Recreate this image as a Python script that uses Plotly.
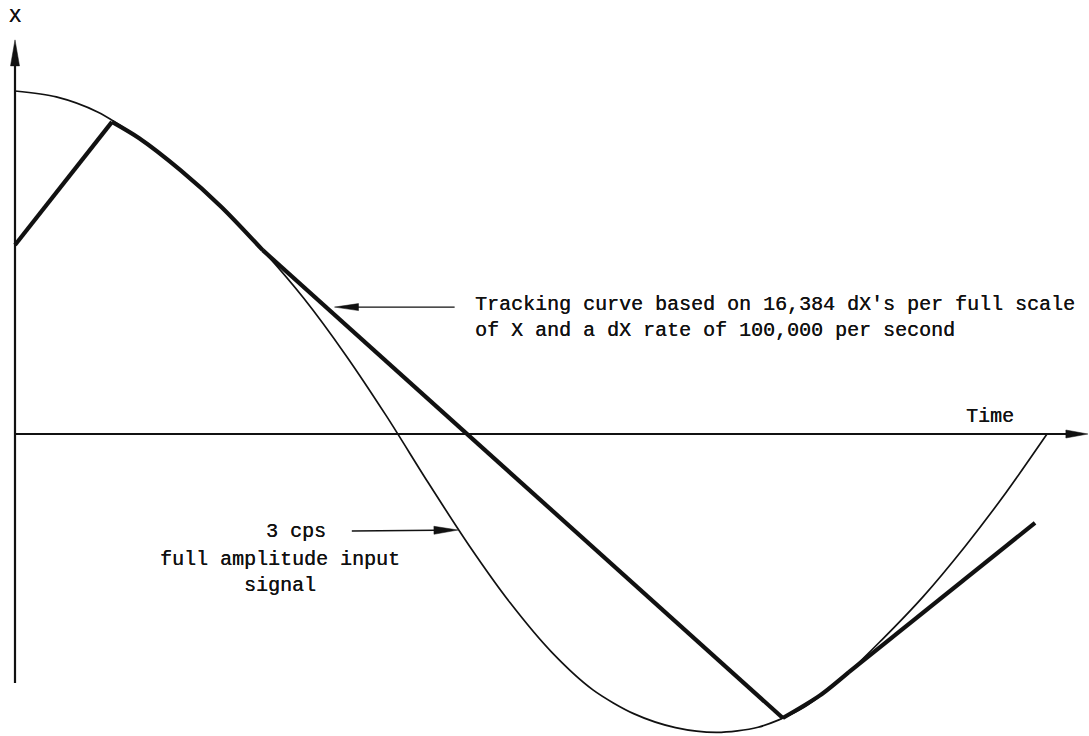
import plotly.graph_objects as go

# Input signal: 3 cps, full amplitude (time in ms, X as fraction of full amplitude)
signal_t = [0, 10, 20, 30, 40, 50, 60, 70, 80, 90, 100, 110, 120, 130, 140,
            150, 160, 170, 180, 190, 200, 210, 220, 230, 240, 250]
signal_x = [1.000, 0.983, 0.939, 0.863, 0.770, 0.662, 0.536, 0.395, 0.232, 0.052,
            -0.140, -0.325, -0.493, -0.636, -0.746, -0.816, -0.856, -0.870, -0.855,
            -0.805, -0.716, -0.600, -0.474, -0.330, -0.172, 0.000]

# Tracking curve: slews at the fixed dX rate, follows the signal where it can keep up.
# Each run is either a straight slew or a stretch lying on the signal.
track_runs = [
    dict(t=[0, 23.5], x=[0.551, 0.910], follows=False),
    dict(t=[23.5, 30, 40, 50, 60], x=[0.910, 0.863, 0.770, 0.662, 0.536], follows=True),
    dict(t=[60, 186], x=[0.536, -0.828], follows=False),
    dict(t=[186, 195, 202], x=[-0.828, -0.762, -0.694], follows=True),
    dict(t=[202, 247.1], x=[-0.694, -0.259], follows=False),
]

# Page geometry: origin of the axes and scale of each axis in pixels
W, H = 1089, 736
ORIGIN_PX, ORIGIN_PY = 15, 434
PX_PER_MS = 4.128
PX_PER_X = 343.0

T_MIN, T_MAX = -ORIGIN_PX / PX_PER_MS, (W - ORIGIN_PX) / PX_PER_MS
X_MIN, X_MAX = (ORIGIN_PY - H) / PX_PER_X, ORIGIN_PY / PX_PER_X

# Axis extents (data units)
AXIS_T_END = 259.9
AXIS_X_TOP = 1.149
AXIS_X_BOTTOM = -0.726

MONO = "Liberation Mono, Courier New, monospace"
INK = "#111111"


def to_px(t, x):
    return ORIGIN_PX + t * PX_PER_MS, ORIGIN_PY - x * PX_PER_X


def to_data(px, py):
    return (px - ORIGIN_PX) / PX_PER_MS, (ORIGIN_PY - py) / PX_PER_X


shapes = []


def arrow(tip, tail, head_len, head_w, line_w):
    """Line from tail to tip with a long, narrow filled head at the tip."""
    tx, ty = to_px(*tip)
    sx, sy = to_px(*tail)
    dx, dy = tx - sx, ty - sy
    n = (dx * dx + dy * dy) ** 0.5
    ux, uy = dx / n, dy / n
    bx, by = tx - ux * head_len, ty - uy * head_len
    nx, ny = -uy, ux
    c1 = to_data(bx + nx * head_w / 2, by + ny * head_w / 2)
    c2 = to_data(bx - nx * head_w / 2, by - ny * head_w / 2)
    base = to_data(bx + ux * 2, by + uy * 2)
    shapes.append(dict(type="line", xref="x", yref="y", x0=tail[0], y0=tail[1],
                       x1=base[0], y1=base[1], line=dict(color=INK, width=line_w)))
    shapes.append(dict(type="path", xref="x", yref="y",
                       path=f"M{tip[0]},{tip[1]} L{c1[0]},{c1[1]} L{c2[0]},{c2[1]} Z",
                       fillcolor=INK, line=dict(color=INK, width=0.5)))


fig = go.Figure()

fig.add_trace(go.Scatter(
    x=signal_t, y=signal_x, mode="lines",
    line=dict(color=INK, width=1.7, shape="spline", smoothing=0.8),
    hoverinfo="skip", showlegend=False))

for run in track_runs:
    fig.add_trace(go.Scatter(
        x=run["t"], y=run["x"], mode="lines",
        line=dict(color=INK, width=4.2,
                  shape="spline" if run["follows"] else "linear", smoothing=0.8),
        hoverinfo="skip", showlegend=False))

# Axes with arrowheads
arrow((0, AXIS_X_TOP), (0, AXIS_X_BOTTOM), 26, 9, 2.2)
arrow((AXIS_T_END, 0), (0, 0), 22, 8, 2.2)

# Pointer to the tracking curve
arrow((77.4, 0.370), (106.5, 0.370), 24, 7, 1.4)
# Pointer to the input signal
arrow((107.3, -0.280), (81.6, -0.283), 24, 8, 1.4)

# Typewriter lettering, slightly heavier than the regular face
font = dict(family=MONO, size=20, color=INK, shadow="0.25px 0 0 #111111")
annotations = [
    dict(x=0, y=1.217, text="X"),
    dict(x=236.3, y=0.05, text="Time"),
    dict(x=111.0, y=0.340, xanchor="left", align="left",
         text="Tracking curve based on 16,384 dX's per full scale<br>"
              "of X and a dX rate of 100,000 per second"),
    dict(x=68.0, y=-0.283, text="3 cps"),
    dict(x=64.2, y=-0.326, yanchor="top", text="full amplitude input<br>signal"),
]
for a in annotations:
    a.update(xref="x", yref="y", showarrow=False, font=font)

fig.update_layout(
    width=W, height=H,
    margin=dict(l=0, r=0, t=0, b=0),
    paper_bgcolor="white", plot_bgcolor="white",
    xaxis=dict(range=[T_MIN, T_MAX], visible=False, fixedrange=True),
    yaxis=dict(range=[X_MIN, X_MAX], visible=False, fixedrange=True),
    annotations=annotations,
    shapes=shapes,
    showlegend=False,
)

fig.write_html("out.html")
